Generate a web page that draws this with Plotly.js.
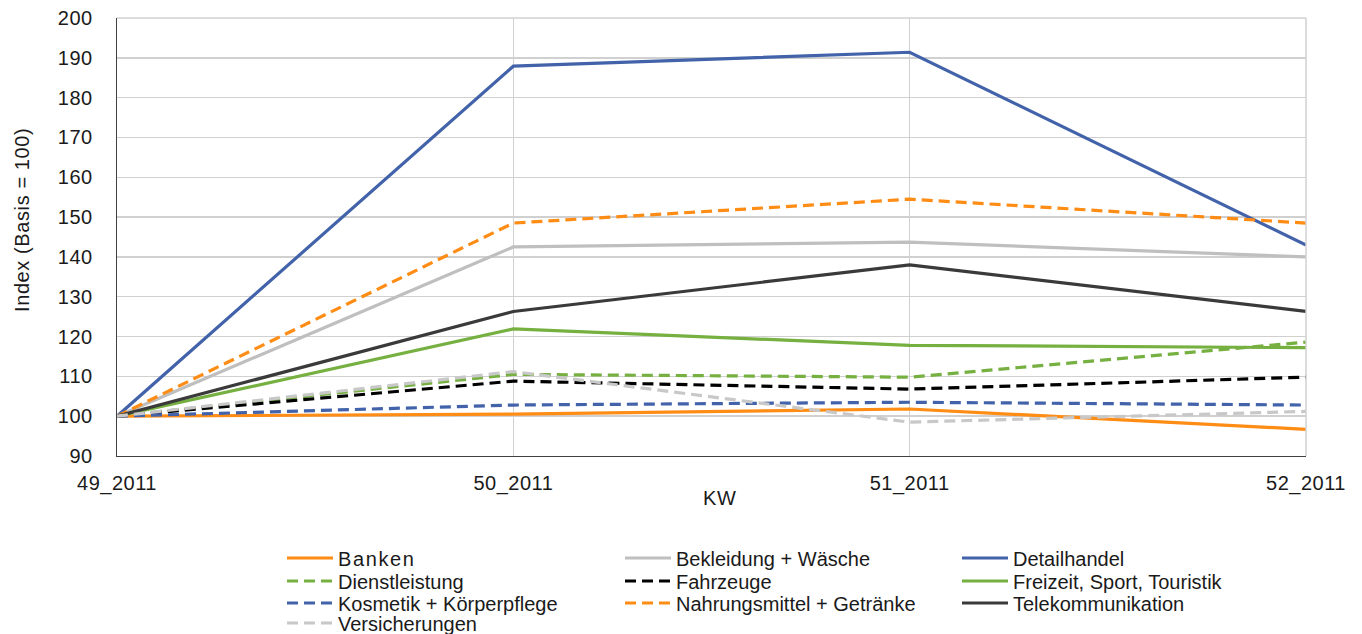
<!DOCTYPE html>
<html>
<head>
<meta charset="utf-8">
<script src="https://cdn.plot.ly/plotly-3.0.1.min.js"></script>
<style>
html,body{margin:0;padding:0;background:#fff;}
#chart{width:1362px;height:634px;}
.legendtext{letter-spacing:1.6px;}
.xtick text,.ytick text{letter-spacing:0.5px;}
.annotation-text{letter-spacing:0.6px;}
</style>
</head>
<body>
<div id="chart"></div>
<script>
const weeks = ["49_2011", "50_2011", "51_2011", "52_2011"];

const banken = [100, 100.5, 101.8, 96.7];
const bekleidung = [100, 142.5, 143.7, 140.0];
const detailhandel = [100, 187.9, 191.4, 143.0];
const dienstleistung = [100, 110.5, 109.8, 118.6];
const fahrzeuge = [100, 108.8, 106.8, 109.8];
const freizeit = [100, 121.9, 117.8, 117.2];
const kosmetik = [100, 102.8, 103.5, 102.8];
const nahrungsmittel = [100, 148.5, 154.5, 148.5];
const telekom = [100, 126.3, 138.0, 126.3];
const versicherungen = [100, 111.2, 98.5, 101.2];

const yTicks = [90, 100, 110, 120, 130, 140, 150, 160, 170, 180, 190, 200];

const xIdx = weeks.map((w, i) => i);
const DASH = "11px,6px";

const FAM = "Liberation Sans, Arial, sans-serif";
const TXT = "#1a1a1a";

// legend grid: 3 columns x 4 rows (row-major order)
const legCols = [282, 620, 957];
const legRows = [558, 581, 603, 623];

let nLeg = 0;
const legends = {};
function tr(name, y, color, dash) {
  const k = nLeg++;
  const key = k === 0 ? "legend" : "legend" + (k + 1);
  const col = k % 3, row = Math.floor(k / 3);
  legends[key] = {
    xref: "container", yref: "container",
    x: legCols[col] / 1362, y: 1 - legRows[row] / 634,
    xanchor: "left", yanchor: "middle",
    orientation: "v", itemwidth: 46,
    font: {family: FAM, size: 20, color: TXT},
    bgcolor: "rgba(0,0,0,0)", borderwidth: 0
  };
  return {
    type: "scatter", mode: "lines", name: name, x: xIdx, y: y,
    legend: key,
    line: {color: color, width: 3.2, dash: dash || "solid"},
    hoverinfo: "skip"
  };
}

const data = [
  tr("Banken", banken, "#FF8C14"),
  tr("Bekleidung + Wäsche", bekleidung, "#BFBFBF"),
  tr("Detailhandel", detailhandel, "#4262AA"),
  tr("Dienstleistung", dienstleistung, "#76B041", DASH),
  tr("Fahrzeuge", fahrzeuge, "#000000", DASH),
  tr("Freizeit, Sport, Touristik", freizeit, "#76B041"),
  tr("Kosmetik + Körperpflege", kosmetik, "#4262AA", DASH),
  tr("Nahrungsmittel + Getränke", nahrungsmittel, "#FF8C14", DASH),
  tr("Telekommunikation", telekom, "#3A3A3A"),
  tr("Versicherungen", versicherungen, "#C8C8C8", DASH)
];

const font = {family: FAM, size: 20, color: TXT};

const layout = Object.assign({
  width: 1362, height: 634,
  margin: {l: 117, r: 56, t: 18, b: 178, pad: 0, autoexpand: false},
  paper_bgcolor: "#fff", plot_bgcolor: "#fff",
  font: font,
  showlegend: true,
  xaxis: {
    range: [0, 3], tickvals: xIdx, ticktext: weeks,
    showgrid: true, gridcolor: "#D0D0D0", gridwidth: 1.5,
    showline: true, linecolor: "#404040", linewidth: 1.3,
    ticks: "", ticklabelstandoff: 9,
    zeroline: false, automargin: false,
    fixedrange: true
  },
  yaxis: {
    range: [90, 200], tickvals: yTicks,
    showgrid: true, gridcolor: "#D0D0D0", gridwidth: 1.5,
    showline: true, linecolor: "#404040", linewidth: 1.3,
    ticks: "", ticklabelstandoff: 19,
    zeroline: false, automargin: false,
    fixedrange: true
  },
  shapes: [
    {type: "line", xref: "paper", yref: "paper", x0: 1, x1: 1, y0: 0, y1: 1, line: {color: "#D0D0D0", width: 1.5}},
    {type: "line", xref: "paper", yref: "paper", x0: 0, x1: 1, y0: 1, y1: 1, line: {color: "#D0D0D0", width: 1.5}}
  ],
  annotations: [
    {text: "KW", xref: "paper", yref: "paper", x: (719 - 117) / 1189, y: (456 - 498) / 438,
     xanchor: "center", yanchor: "middle", showarrow: false, font: {family: FAM, size: 20, color: TXT}},
    {text: "Index (Basis = 100)", xref: "paper", yref: "paper", x: (22 - 117) / 1189, y: (456 - 220) / 438,
     xanchor: "center", yanchor: "middle", textangle: -90, showarrow: false, font: {family: FAM, size: 20, color: TXT}}
  ]
}, legends);

Plotly.newPlot("chart", data, layout, {displayModeBar: false, staticPlot: true});
</script>
</body>
</html>
